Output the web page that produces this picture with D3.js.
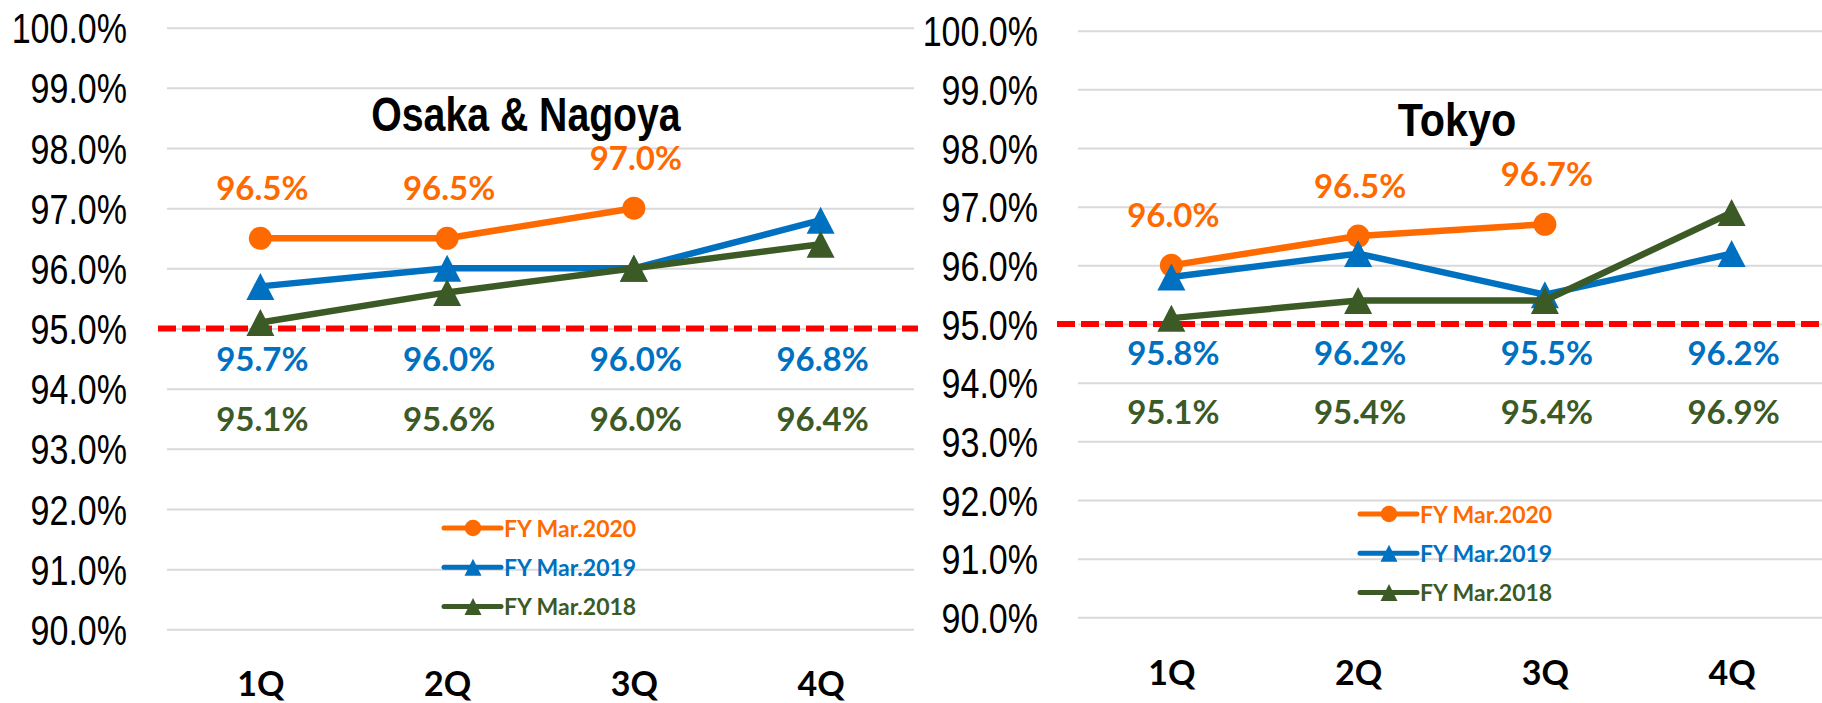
<!DOCTYPE html>
<html lang="en">
<head>
<meta charset="utf-8">
<style type="text/css">
body { margin: 0; background: #fff; }
.grid line { stroke: #d9d9d9; stroke-width: 2px; }
.grid .domain { display: none; }
.ytick text { font-family: "Liberation Sans", Arial, sans-serif; font-size: 42px; fill: #000; }
.xaxis text { font-family: Lato, "Open Sans", sans-serif; font-weight: bold; font-size: 34px; fill: #000; }
.xaxis .domain, .xaxis line { display: none; }
.dlabel { font-family: Lato, "Open Sans", sans-serif; font-weight: bold; font-size: 33px; text-anchor: middle; }
.legend text { font-family: Lato, "Open Sans", sans-serif; font-weight: bold; font-size: 23px; }
.title { font-family: "Liberation Sans", Arial, sans-serif; font-weight: bold; text-anchor: middle; }
</style>
</head>
<body>
<svg width="1822" height="703"></svg>

<script src="https://cdn.jsdelivr.net/npm/d3@7"></script>
<script type="text/javascript">
// quarters + occupancy rates (%)
var quarters = ["1Q", "2Q", "3Q", "4Q"];
var seriesNames = ["FY Mar.2020", "FY Mar.2019", "FY Mar.2018"];
var seriesColors = ["#ff6a00", "#0070c0", "#3b5a25"];
var seriesShapes = ["circle", "triangle", "triangle"];

var osaka2020 = [96.5, 96.5, 97.0, null];
var osaka2019 = [95.7, 96.0, 96.0, 96.8];
var osaka2018 = [95.1, 95.6, 96.0, 96.4];

var tokyo2020 = [96.0, 96.5, 96.7, null];
var tokyo2019 = [95.8, 96.2, 95.5, 96.2];
var tokyo2018 = [95.1, 95.4, 95.4, 96.9];

var yTicks = [90, 91, 92, 93, 94, 95, 96, 97, 98, 99, 100];
var target = 95.0;

var panels = [
    {title: "Osaka & Nagoya", series: [osaka2020, osaka2019, osaka2018],
     x0: 167, x1: 914, yTop: 27.7, yBottom: 629.3,
     titleX: 526, titleY: 131, titleSize: 49, titleSx: 0.8,
     axisY: 696, legendX: 444, legendY: 528, redX0: 158, redX1: 918},
    {title: "Tokyo", series: [tokyo2020, tokyo2019, tokyo2018],
     x0: 1078, x1: 1825, yTop: 30.7, yBottom: 617.3,
     titleX: 1457, titleY: 136, titleSize: 47, titleSx: 0.88,
     axisY: 685, legendX: 1360, legendY: 514, redX0: 1057, redX1: 1822}
];

var svg = d3.select("svg");

function triPath(w, h) {
    return "M0," + (-h / 2) + "L" + (w / 2) + "," + (h / 2) + "L" + (-w / 2) + "," + (h / 2) + "Z";
}

function drawMarker(g, shape, color, x, y, big) {
    if (shape == "circle") {
        g.append("circle").attr("cx", x).attr("cy", y)
            .attr("r", big ? 11.5 : 8.3).attr("fill", color);
    } else {
        g.append("path").attr("transform", "translate(" + x + "," + y + ")")
            .attr("d", big ? triPath(28, 27) : triPath(17, 17)).attr("fill", color);
    }
}

panels.forEach(function (p) {
    var x = d3.scalePoint().domain(quarters).range([p.x0, p.x1]).padding(0.5);
    var y = d3.scaleLinear().domain([90, 100]).range([p.yBottom, p.yTop]);
    var g = svg.append("g");

    // gridlines + tick labels
    var yAxis = g.append("g")
        .attr("class", "grid ytick")
        .attr("transform", "translate(" + p.x0 + ",0)")
        .call(d3.axisLeft(y).tickValues(yTicks)
            .tickSize(-(p.x1 - p.x0))
            .tickFormat(function (d) { return d3.format(".1f")(d) + "%"; }));
    yAxis.selectAll("text")
        .attr("x", -40 / 0.81)
        .attr("dy", "0.36em")
        .attr("transform", "scale(0.81,1)");

    // category labels
    var xAxis = g.append("g")
        .attr("class", "xaxis")
        .attr("transform", "translate(0," + p.axisY + ")")
        .call(d3.axisBottom(x).tickSize(0));
    xAxis.selectAll("text").attr("y", 0).attr("dy", 0);

    // target line
    g.append("line")
        .attr("x1", p.redX0).attr("x2", p.redX1)
        .attr("y1", y(target)).attr("y2", y(target))
        .attr("stroke", "#ff0000").attr("stroke-width", 6)
        .attr("stroke-dasharray", "18,6");

    // title
    g.append("text")
        .attr("class", "title")
        .attr("transform", "translate(" + p.titleX + "," + p.titleY + ") scale(" + p.titleSx + ",1)")
        .style("font-size", p.titleSize + "px")
        .text(p.title);

    // series lines + markers
    var line = d3.line()
        .defined(function (d) { return d != null; })
        .x(function (d, i) { return x(quarters[i]); })
        .y(function (d) { return y(d); });

    p.series.forEach(function (vals, s) {
        g.append("path")
            .datum(vals)
            .attr("d", line)
            .attr("fill", "none")
            .attr("stroke", seriesColors[s])
            .attr("stroke-width", 6.5)
            .attr("stroke-linejoin", "round");
        vals.forEach(function (v, i) {
            if (v == null) return;
            drawMarker(g, seriesShapes[s], seriesColors[s], x(quarters[i]), y(v), true);
        });
    });

    // data labels: current year above points, older years in rows
    var labelRows = [null, 94.3, 93.3];
    p.series.forEach(function (vals, s) {
        vals.forEach(function (v, i) {
            if (v == null) return;
            var ly = labelRows[s] == null ? y(v) - 38 : y(labelRows[s]);
            g.append("text")
                .attr("class", "dlabel")
                .attr("x", x(quarters[i]) + 2)
                .attr("y", ly)
                .attr("fill", seriesColors[s])
                .text(d3.format(".1f")(v) + "%");
        });
    });

    // legend
    var leg = g.append("g").attr("class", "legend");
    seriesNames.forEach(function (name, s) {
        var ly = p.legendY + s * 39.3;
        leg.append("line")
            .attr("x1", p.legendX).attr("x2", p.legendX + 57)
            .attr("y1", ly).attr("y2", ly)
            .attr("stroke", seriesColors[s]).attr("stroke-width", 5)
            .attr("stroke-linecap", "round");
        drawMarker(leg, seriesShapes[s], seriesColors[s], p.legendX + 29, ly, false);
        leg.append("text")
            .attr("x", p.legendX + 60)
            .attr("y", ly + 8.5)
            .attr("fill", seriesColors[s])
            .text(name);
    });
});
</script>
</body>
</html>
